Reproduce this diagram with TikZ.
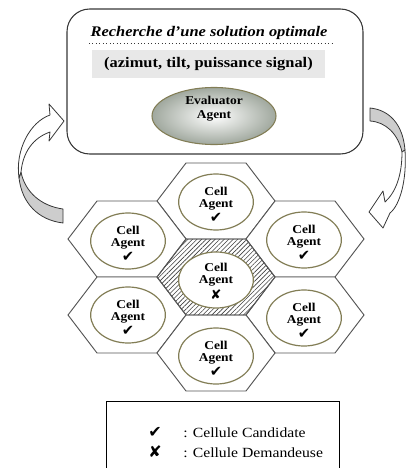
\documentclass[tikz,border=0pt]{standalone}
\usepackage{fontspec}
\setmainfont{Liberation Serif}
\newfontfamily\widefont[FakeStretch=1.12]{Liberation Serif}
\newfontfamily\symfont{DejaVu Sans}
\usetikzlibrary{patterns.meta,shapes.geometric}
\definecolor{linegray}{RGB}{55,55,55}
\definecolor{hexline}{RGB}{85,85,85}
\definecolor{olivering}{RGB}{130,125,85}
\definecolor{evalouter}{RGB}{160,168,158}
\definecolor{panelgray}{RGB}{232,232,232}
\definecolor{backgray}{RGB}{205,205,205}
\begin{document}
\begin{tikzpicture}[x=0.75pt,y=-0.75pt,
  mainbox/.style={draw=linegray, line width=0.8pt, rounded corners=17pt,
    minimum width=222pt, minimum height=108.75pt, inner sep=0pt},
  hexcell/.style={draw=hexline, line width=0.7pt, fill=white},
  hexhatch/.style={draw=hexline, line width=0.7pt,
    pattern={Lines[angle=45,distance=2.4pt,line width=0.45pt]}, pattern color=black!75},
  cellell/.style={ellipse, draw=olivering, line width=0.9pt, fill=white,
    minimum width=56pt, minimum height=42pt, inner sep=0pt},
  celltxt/.style={font=\widefont\fontsize{9}{9}\selectfont\bfseries, align=center, inner sep=0pt},
  evalell/.style={ellipse, draw=olivering, line width=0.8pt,
    inner color=white, outer color=evalouter,
    minimum width=93pt, minimum height=40.5pt, inner sep=0pt,
    font=\widefont\fontsize{9}{10.5}\selectfont\bfseries, align=center},
  bentarrow/.style={draw=linegray, line width=0.6pt, fill=white, line join=round},
  bentback/.style={draw=linegray, line width=0.6pt, fill=backgray, line join=round},
  legtxt/.style={font=\widefont\fontsize{10.5}{12}\selectfont, anchor=west, inner sep=0pt},
  legsym/.style={font=\symfont\fontsize{12}{12}\selectfont, inner sep=0pt}
]
\useasboundingbox (0,0) rectangle (406,468);
\clip (0,0) rectangle (406,468);

% top panel
\node[mainbox] (main) at (215,81.5) {};
\node[font=\widefont\fontsize{11}{13}\selectfont\bfseries\itshape] (title) at (209,33) {Recherche d’une solution optimale};
\coordinate (dotl) at (89,43);
\coordinate (dotr) at (335,43);
\draw[dotted, line width=0.6pt, linegray] (dotl) -- (dotr);
\node[fill=panelgray, minimum width=174.75pt, minimum height=21pt, inner sep=0pt,
  font=\widefont\fontsize{11}{12}\selectfont\bfseries] (panel) at (208.5,64) {(azimut, tilt, puissance signal)};
\node[evalell] (eval) at (214,116) {Evaluator\\Agent\\[3pt]};

% left curved arrow
\draw[bentback] (19,178) .. controls (22,203) and (38,220) .. (63,223) -- (63,209)
  .. controls (41,206) and (25,192) .. (21,172) -- cycle;
\draw[bentarrow] (19,178) .. controls (15,150) and (30,122) .. (50,115) -- (49,104) -- (64,121)
  -- (49,141) -- (50,132) .. controls (33,138) and (23,152) .. (21,172) -- cycle;

% right curved arrow
\draw[bentback] (370,108) .. controls (390,110) and (403,125) .. (405,150) -- (402,152)
  .. controls (398,134) and (386,122) .. (370,121) -- cycle;
\draw[bentarrow] (405,150) .. controls (407,180) and (400,205) .. (390,213) -- (383,228)
  -- (369,212) -- (383,191) -- (385,202) .. controls (396,192) and (402,175) .. (402,152) -- cycle;

% hexagons
\foreach \cx/\cy in {216/201, 127/239, 305/239, 127/315, 305/315, 216/353}
  \draw[hexcell] (\cx-59,\cy) -- (\cx-30,\cy-38) -- (\cx+30,\cy-38) -- (\cx+59,\cy)
    -- (\cx+30,\cy+38) -- (\cx-30,\cy+38) -- cycle;
\draw[hexhatch] (157,277) -- (186,239) -- (246,239) -- (275,277) -- (246,315) -- (186,315) -- cycle;

% cell agents
\node[cellell] (ctop) at (216,202) {};
\node[cellell] (cul) at (128,241) {};
\node[cellell] (cur) at (304,240) {};
\node[cellell] (cmid) at (216,280) {};
\node[cellell] (cll) at (128,315) {};
\node[cellell] (clr) at (304,318) {};
\node[cellell] (cbot) at (216,356) {};
\foreach \n in {ctop,cul,cur,cll,clr,cbot}
  \node[celltxt] at ([yshift=-2pt]\n) {Cell\\Agent\\[2pt]{\symfont\fontsize{11}{11}\selectfont ✔}};
\node[celltxt] at ([yshift=-1pt]cmid) {Cell\\Agent\\[2pt]{\symfont\fontsize{10}{10}\selectfont ✘}};

% legend
\node[draw=black, line width=0.7pt, minimum width=174.75pt, minimum height=80pt, inner sep=0pt] (legend) at (222.5,455) {};
\node[legsym] (symc) at (155,432) {✔};
\node[legtxt] (txtc) at (183,433) {: Cellule Candidate};
\node[legsym] (symd) at (155,452) {✘};
\node[legtxt] (txtd) at (183,453) {: Cellule Demandeuse};
\end{tikzpicture}
\end{document}
